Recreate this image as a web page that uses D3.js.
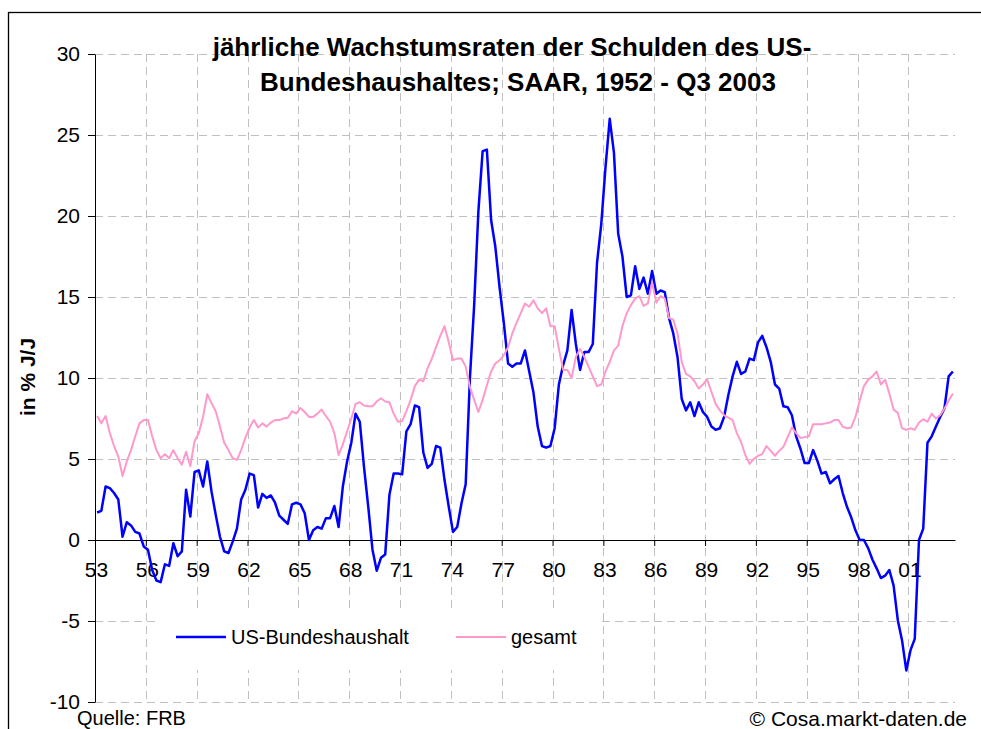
<!DOCTYPE html>
<html>
<head>
<meta charset="utf-8">
<script src="https://cdn.jsdelivr.net/npm/d3@7"></script>
<style>
  body { margin: 0; background: #fff; }
  svg text { font-family: "Liberation Sans", Arial, sans-serif; fill: #000; }
</style>
</head>
<body>
<div id="chart"></div>
<script>
"use strict"

/* quarterly values, starting with Q1 1953 */
let startYear = 1953

let bund = [1.7, 1.8, 3.3, 3.2, 2.9, 2.5, 0.2, 1.1, 0.9, 0.5,
            0.4, -0.4, -0.6, -1.85, -2.5, -2.6, -1.5, -1.6, -0.2, -1.0,
            -0.7, 3.1, 1.45, 4.2, 4.3, 3.3, 4.85, 3.0, 1.55, 0.2,
            -0.7, -0.8, -0.1, 0.7, 2.5, 3.1, 4.1, 4.0, 2.0, 2.85,
            2.6, 2.75, 2.3, 1.5, 1.25, 1.0, 2.2, 2.3, 2.2, 1.65,
            0.0, 0.6, 0.8, 0.7, 1.35, 1.35, 2.1, 0.8, 3.3, 4.85,
            6.0, 7.8, 7.3, 4.5, 2.05, -0.6, -1.9, -1.1, -0.9, 2.8,
            4.1, 4.1, 4.05, 6.7, 7.15, 8.3, 8.2, 5.4, 4.45, 4.7,
            5.8, 5.7, 3.7, 2.05, 0.5, 0.8, 2.25, 3.45, 10.0, 14.5,
            20.3, 24.0, 24.1, 19.75, 18.1, 15.6, 13.4, 10.9, 10.7, 10.9,
            10.9, 11.7, 10.4, 9.1, 7.0, 5.8, 5.7, 5.8, 6.9, 9.6,
            10.8, 11.7, 14.2, 12.1, 10.5, 11.6, 11.6, 12.1, 17.1, 19.5,
            23.0, 26.0, 23.9, 18.9, 17.5, 15.0, 15.1, 16.9, 15.5, 16.2,
            15.2, 16.6, 15.2, 15.4, 15.3, 13.7, 12.75, 11.3, 8.7, 8.0,
            8.5, 7.65, 8.5, 7.9, 7.6, 7.0, 6.8, 6.9, 7.6, 8.95,
            10.1, 11.0, 10.25, 10.4, 11.2, 11.1, 12.2, 12.6, 11.9, 11.0,
            9.6, 9.35, 8.25, 8.2, 7.7, 6.4, 5.65, 4.75, 4.75, 5.55,
            4.9, 4.1, 4.2, 3.5, 3.75, 3.95, 2.9, 2.05, 1.4, 0.6,
            0.0, 0.0, -0.5, -1.2, -1.75, -2.35, -2.2, -1.85, -2.8, -4.95,
            -6.2, -8.05, -6.8, -6.1, 0.0, 0.7, 6.0, 6.4, 7.0, 7.6,
            8.1, 10.1, 10.4]

let gesamt = [7.65, 7.2, 7.65, 6.6, 5.8, 5.15, 3.95, 4.85, 5.55, 6.4,
              7.2, 7.4, 7.4, 6.4, 5.55, 5.05, 5.3, 5.05, 5.55, 5.05,
              4.65, 5.45, 4.55, 6.1, 6.6, 7.6, 9.0, 8.45, 7.95, 7.0,
              6.0, 5.55, 5.05, 4.95, 5.55, 6.3, 6.95, 7.4, 6.95, 7.2,
              7.0, 7.25, 7.4, 7.4, 7.5, 7.55, 7.95, 7.8, 8.15, 7.9,
              7.6, 7.6, 7.8, 8.05, 7.65, 7.3, 6.6, 5.25, 5.9, 6.7,
              7.5, 8.4, 8.5, 8.3, 8.25, 8.25, 8.55, 8.75, 8.55, 8.5,
              7.8, 7.3, 7.35, 7.95, 8.65, 9.5, 9.9, 9.8, 10.6, 11.2,
              11.9, 12.6, 13.2, 12.2, 11.1, 11.2, 11.2, 10.7, 9.45, 8.65,
              7.9, 8.65, 9.55, 10.4, 10.9, 11.1, 11.4, 11.9, 12.75, 13.4,
              14.0, 14.6, 14.4, 14.8, 14.3, 14.0, 14.3, 13.2, 13.2, 11.8,
              10.5, 10.5, 10.0, 11.3, 11.8, 11.3, 10.7, 10.1, 9.5, 9.6,
              10.4, 11.0, 11.7, 12.0, 13.2, 14.0, 14.5, 14.9, 15.05, 14.45,
              14.6, 15.9, 14.65, 15.05, 14.9, 13.7, 13.6, 12.75, 11.0, 10.25,
              10.1, 9.8, 9.35, 9.6, 9.9, 9.15, 8.4, 8.0, 7.7, 7.55,
              7.4, 6.6, 6.05, 5.25, 4.7, 5.0, 5.2, 5.3, 5.8, 5.5,
              5.2, 5.5, 5.75, 6.35, 6.95, 6.6, 6.3, 6.35, 6.4, 7.15,
              7.15, 7.15, 7.2, 7.25, 7.4, 7.4, 7.0, 6.9, 6.95, 7.6,
              8.6, 9.5, 9.9, 10.1, 10.4, 9.6, 9.9, 9.05, 8.05, 7.85,
              6.9, 6.8, 6.9, 6.8, 7.25, 7.45, 7.3, 7.8, 7.5, 7.7,
              8.1, 8.6, 9.05]

let seriesNames = ["US-Bundeshaushalt", "gesamt"]
let yTicks = [-10, -5, 0, 5, 10, 15, 20, 25, 30]
let xTickYears = [1953, 1956, 1959, 1962, 1965, 1968, 1971, 1974, 1977,
                  1980, 1983, 1986, 1989, 1992, 1995, 1998, 2001]

let svg = d3.select("#chart")
    .append("svg")
    .attr("width", 981)
    .attr("height", 729)

svg.append("rect")
    .attr("width", 981)
    .attr("height", 729)
    .attr("fill", "#fff")

/* outer frame, runs off the right and bottom of the picture */
svg.append("rect")
    .attr("x", 8.5)
    .attr("y", 12.5)
    .attr("width", 1000)
    .attr("height", 800)
    .attr("fill", "none")
    .attr("stroke", "#000")
    .attr("stroke-width", 1.3)

/* scales: one category slot per quarter */
let x = d3.scaleLinear()
    .domain([startYear, startYear + bund.length / 4])
    .range([95, 955])

let y = d3.scaleLinear()
    .domain([-10, 30])
    .range([702, 54])

let qx = (d, i) => x(startYear + (i + 0.5) / 4)

/* dashed grid */
svg.append("g")
    .selectAll("line")
    .data(yTicks.filter(d => d != 0))
    .join("line")
    .attr("x1", x.range()[0])
    .attr("x2", x.range()[1])
    .attr("y1", d => y(d) + 0.5)
    .attr("y2", d => y(d) + 0.5)
    .attr("stroke", "#c0c0c0")
    .attr("stroke-dasharray", "8,5")

svg.append("g")
    .selectAll("line")
    .data(xTickYears.slice(1))
    .join("line")
    .attr("x1", d => Math.round(x(d)) + 0.5)
    .attr("x2", d => Math.round(x(d)) + 0.5)
    .attr("y1", y(30))
    .attr("y2", y(-10))
    .attr("stroke", "#c0c0c0")
    .attr("stroke-dasharray", "8,5")

/* y axis, plain hyphen for the minus like the original */
let yAxis = svg.append("g")
    .attr("transform", "translate(" + x.range()[0] + ",0)")
    .call(d3.axisLeft(y)
        .tickValues(yTicks)
        .tickFormat(d => String(d))
        .tickSize(7)
        .tickSizeOuter(0)
        .tickPadding(8))
yAxis.selectAll("text").attr("font-size", 21).attr("font-family", "Liberation Sans, Arial, sans-serif")
yAxis.select(".domain").attr("stroke", "#000")

/* x axis sits on zero */
let xAxis = svg.append("g")
    .attr("transform", "translate(0," + y(0) + ")")
    .call(d3.axisBottom(x)
        .tickValues(xTickYears)
        .tickFormat(d => String(d % 100).padStart(2, "0"))
        .tickSize(6)
        .tickSizeOuter(0)
        .tickPadding(16))
xAxis.selectAll("text").attr("font-size", 21).attr("dx", 1).attr("font-family", "Liberation Sans, Arial, sans-serif")

/* the two series, gesamt drawn last */
let line = d3.line()
    .x(qx)
    .y(d => y(d))

svg.append("path")
    .datum(bund)
    .attr("d", line)
    .attr("fill", "none")
    .attr("stroke", "#0000ff")
    .attr("stroke-width", 2.5)
    .attr("stroke-linejoin", "round")

svg.append("path")
    .datum(gesamt)
    .attr("d", line)
    .attr("fill", "none")
    .attr("stroke", "#ff99cc")
    .attr("stroke-width", 2)
    .attr("stroke-linejoin", "round")

/* legend box hides the grid behind it */
svg.append("rect")
    .attr("x", 157)
    .attr("y", 613)
    .attr("width", 445)
    .attr("height", 57)
    .attr("fill", "#fff")

let legendColors = ["#0000ff", "#ff99cc"]
let legendX = [176, 456]

let legend = svg.append("g")
    .selectAll("g")
    .data(seriesNames)
    .join("g")
    .attr("transform", (d, i) => "translate(" + legendX[i] + ",637)")

legend.append("line")
    .attr("x1", 0)
    .attr("x2", 50)
    .attr("stroke", (d, i) => legendColors[i])
    .attr("stroke-width", (d, i) => i == 0 ? 2.5 : 2)

legend.append("text")
    .attr("x", 55)
    .attr("y", 7)
    .attr("font-size", 20)
    .text(d => d)

/* title */
let title = svg.append("text")
    .attr("font-size", 26)
    .attr("font-weight", "bold")
    .attr("text-anchor", "middle")

title.append("tspan").attr("x", 512).attr("y", 56).text("jährliche Wachstumsraten der Schulden des US-")
title.append("tspan").attr("x", 518).attr("y", 91).text("Bundeshaushaltes; SAAR, 1952 - Q3 2003")

/* y axis label */
svg.append("text")
    .attr("transform", "translate(35,377) rotate(-90)")
    .attr("font-size", 21)
    .attr("font-weight", "bold")
    .attr("text-anchor", "middle")
    .text("in % J/J")

/* footer */
svg.append("text")
    .attr("x", 77)
    .attr("y", 725)
    .attr("font-size", 20)
    .text("Quelle: FRB")

svg.append("text")
    .attr("x", 967)
    .attr("y", 726)
    .attr("font-size", 21)
    .attr("text-anchor", "end")
    .text("© Cosa.markt-daten.de")
</script>
</body>
</html>
